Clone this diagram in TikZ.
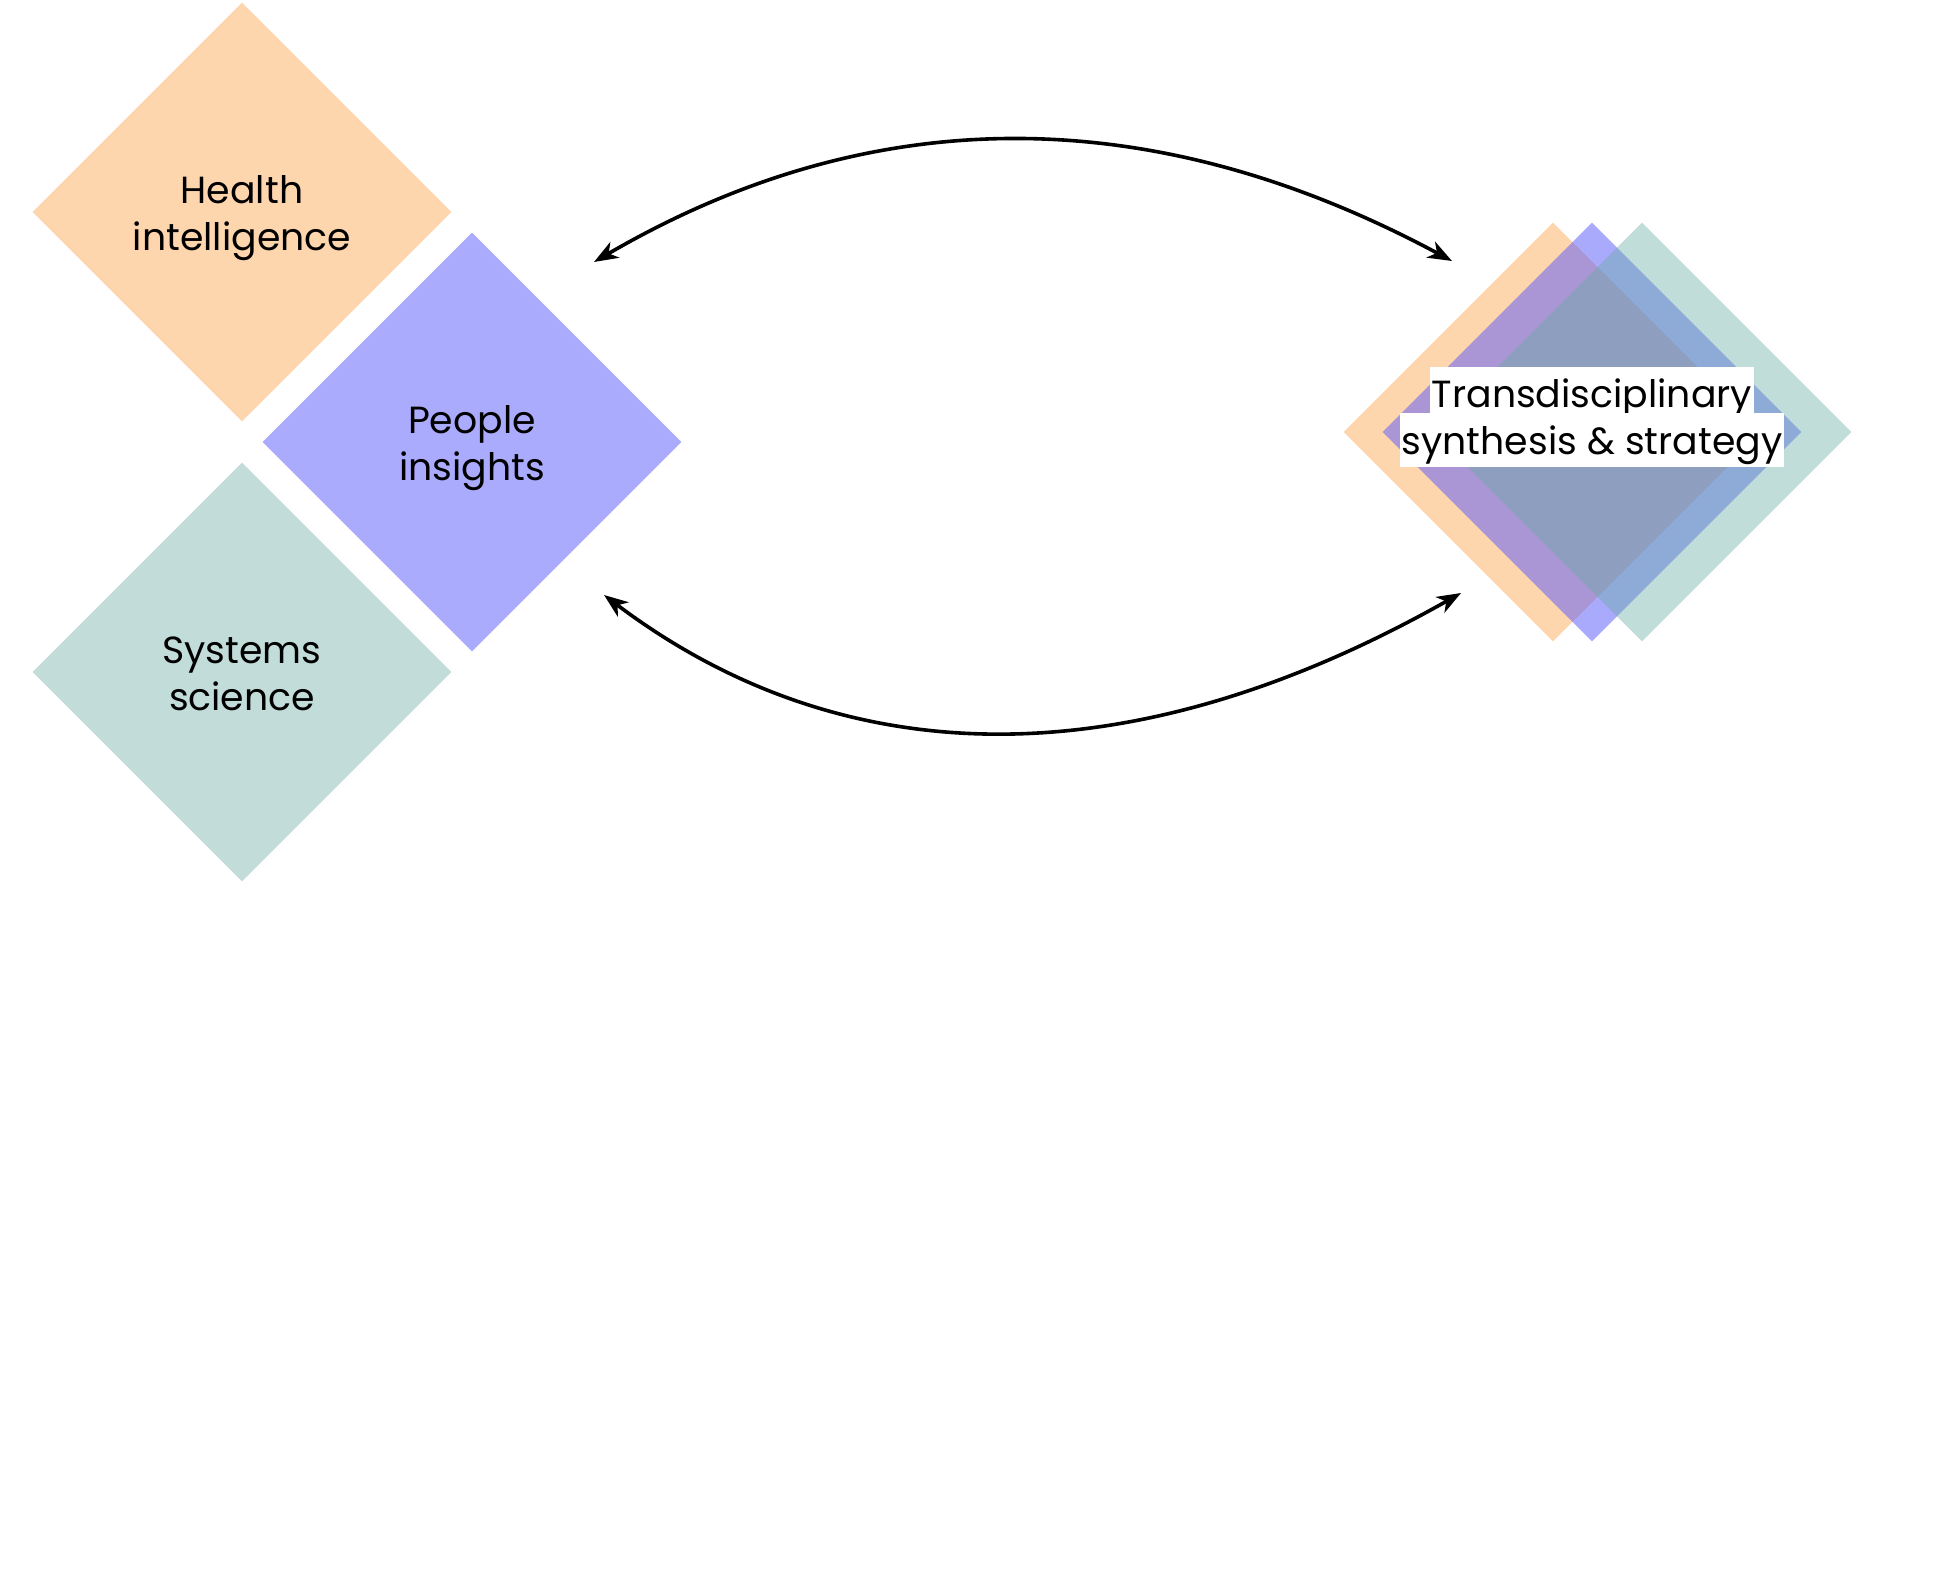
\documentclass[tikz,border=0pt]{standalone}
\usepackage{fontspec}
\setmainfont{Poppins}
\usetikzlibrary{shapes.geometric,arrows.meta}

% flat tints of the three fields
\definecolor{fieldOrange}{RGB}{254,214,174}
\definecolor{fieldPurple}{RGB}{171,171,253}
\definecolor{fieldTeal}{RGB}{194,221,217}
% strong tones used with transparency in the overlapping stack
\definecolor{stackPurple}{RGB}{87,87,251}
\definecolor{stackTeal}{RGB}{102,170,160}

% struts that fix the vertical placement of two-line labels
\newcommand{\topstrut}{\rule{0pt}{40pt}}
\newcommand{\botstrut}{\rule[-10pt]{0pt}{10pt}}

\begin{document}
\begin{tikzpicture}[x=1pt,y=-1pt,
  labelfont/.style={font=\fontsize{37.8}{46.4}\selectfont},
  field/.style={shape=diamond, draw=none, aspect=1, inner sep=0pt,
    minimum width=419pt, minimum height=419pt, align=center, labelfont},
  whitetag/.style={fill=white, inner xsep=2pt, inner ysep=0pt, anchor=base, labelfont},
  link/.style={line width=3.6pt,
    {Stealth[length=24pt,width=18pt,inset=7pt]}-{Stealth[length=24pt,width=18pt,inset=7pt]}}
]
\useasboundingbox (0,0) rectangle (1956,1585);
\fill[white] (0,0) rectangle (1956,1585);

% the three separate fields
\node[field, fill=fieldOrange] (health)  at (242,212) {\topstrut Health\\intelligence\botstrut};
\node[field, fill=fieldPurple] (people)  at (472,442) {\topstrut People\\insights\botstrut};
\node[field, fill=fieldTeal]   (systems) at (242,672) {\topstrut Systems\\science\botstrut};

% the overlapping stack
\node[field, fill=fieldOrange]                     (synO) at (1553,432) {};
\node[field, fill=stackPurple, fill opacity=0.5]   (synP) at (1592,432) {};
\node[field, fill=stackTeal,   fill opacity=0.4]   (synT) at (1642,432) {};

\node[whitetag, text height=40.6pt, text depth=6pt]    (synA) at (1592,407.3) {Transdisciplinary};
\node[whitetag, text height=40.7pt, text depth=12.7pt] (synB) at (1592,454)   {synthesis \& strategy};

% ends of the two exchange arcs
\coordinate (topL) at (594,262);
\coordinate (topR) at (1452,261);
\coordinate (botL) at (604,595);
\coordinate (botR) at (1461,593);

\draw[link] (topL) .. controls (872,100) and (1152,100) .. (topR);
\draw[link] (botL) .. controls (847,778) and (1134,778) .. (botR);
\end{tikzpicture}
\end{document}
